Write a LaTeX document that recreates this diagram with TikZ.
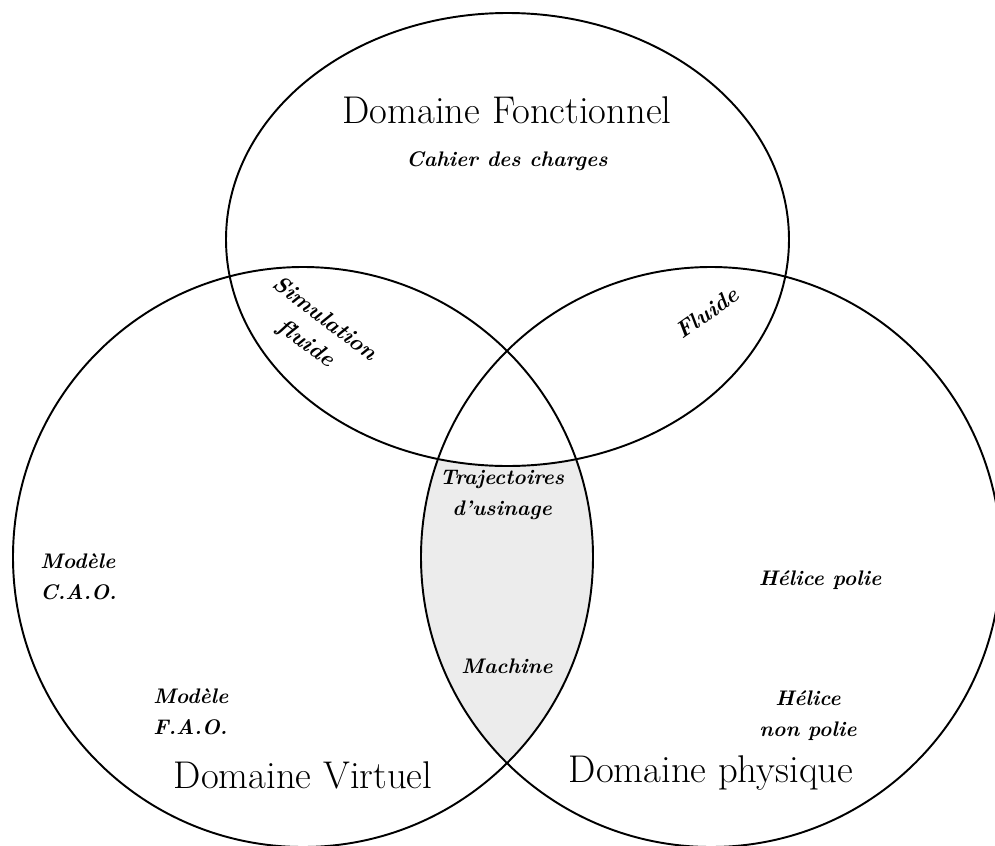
\documentclass[tikz,border=0pt]{standalone}
\usetikzlibrary{positioning}

\begin{document}
\begin{tikzpicture}[x=0.02cm, y=-0.02cm,
    titre/.style={font=\fontsize{22}{26}\selectfont, inner sep=0pt},
    mot/.style={font=\fontsize{12}{17.5}\selectfont\bfseries\itshape, align=center, inner sep=0pt},
    penche/.style={mot, font=\fontsize{13}{17.5}\selectfont\bfseries\itshape}]
    \useasboundingbox (0,0) rectangle (995,846);
    % zone commune grisee
    \begin{scope}
        \clip (303,557) circle (290);
        \clip (711,557) circle (290);
        \fill[gray!15] (303,557) circle (290);
        \fill[white] (507.5,239.5) ellipse (281.5 and 226.5);
    \end{scope}
    \draw[line width=1.1pt] (507.5,239.5) ellipse (281.5 and 226.5);
    \draw[line width=1.1pt] (303,557) circle (290);
    \draw[line width=1.1pt] (711,557) circle (290);

    \node[titre] (fonc) at (507,110) {Domaine Fonctionnel};
    \node[mot] (cahier) at (507,161) {Cahier des charges};
    \node[penche, rotate=-37] (simu) at (315,332) {Simulation\\fluide};
    \node[penche, rotate=35] (fluide) at (707,313) {Fluide};
    \node[mot] (traj) at (502,495) {Trajectoires\\d'usinage};
    \node[mot] (machine) at (507,666) {Machine};
    \node[mot, align=left, anchor=west] (cao) at (40,577) {Modèle\\C.A.O.};
    \node[mot, align=left, anchor=west] (fao) at (153,712) {Modèle\\F.A.O.};
    \node[mot] (polie) at (820,580) {Hélice polie};
    \node[mot] (nonpolie) at (808,716) {Hélice\\non polie};
    \node[titre] (virtuel) at (303,775) {Domaine Virtuel};
    \node[titre] (physique) at (711,773) {Domaine physique};
\end{tikzpicture}
\end{document}
